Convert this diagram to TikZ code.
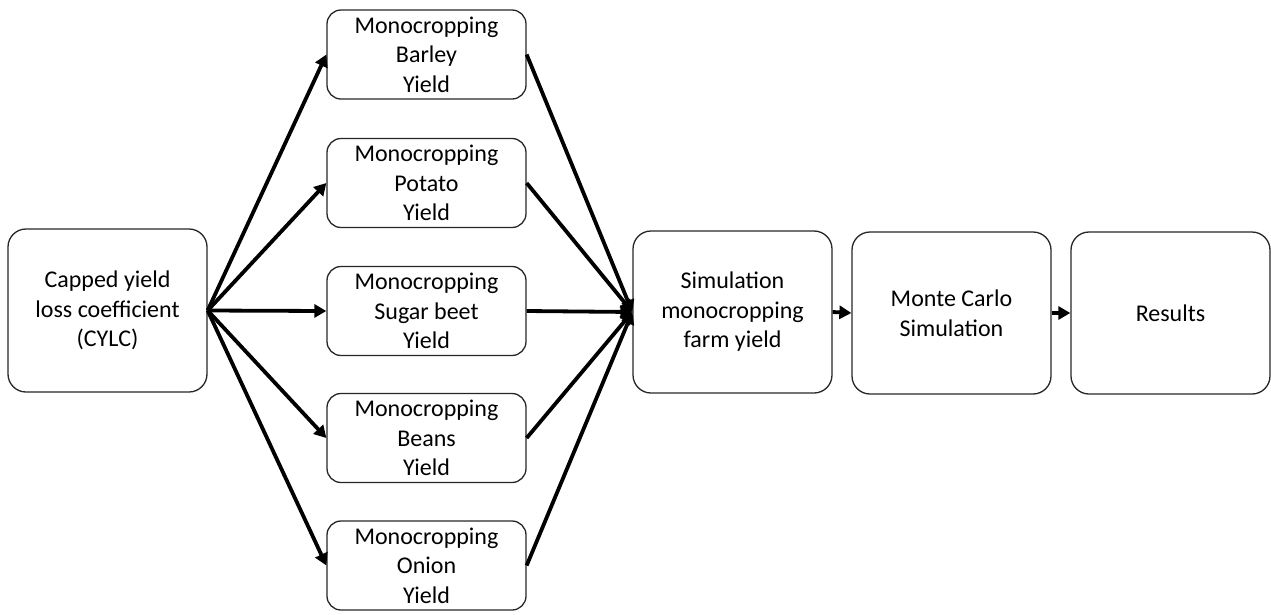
\documentclass[tikz,border=0pt]{standalone}
\usepackage{fontspec}
\setmainfont{Carlito}
\usetikzlibrary{arrows.meta}
\begin{document}
\begin{tikzpicture}[x=1pt,y=-1pt,
  box/.style={draw=black!85,line width=1.3pt,rounded corners=18pt,align=center,
    font=\fontsize{24}{29.5}\selectfont,inner sep=0pt},
  small/.style={box,minimum width=199pt,minimum height=89pt,rounded corners=14pt},
  big/.style={box,minimum width=199pt,minimum height=162pt},
  arr/.style={line width=3.8pt,-{Triangle[length=12pt,width=13pt]}}]
\useasboundingbox (0,0) rectangle (1271,614);
\node[big,minimum height=163pt] (cylc) at (107.5,310.5) {Capped yield\\loss coefficient\\(CYLC)};
\node[small] (barley) at (426.5,54.5) {Monocropping\\Barley\\Yield};
\node[small] (potato) at (426.5,183) {Monocropping\\Potato\\Yield};
\node[small] (sugar) at (426.5,311) {Monocropping\\Sugar beet\\Yield};
\node[small] (beans) at (426.5,438) {Monocropping\\Beans\\Yield};
\node[small] (onion) at (426.5,565.5) {Monocropping\\Onion\\Yield};
\node[big] (sim) at (732.5,312) {Simulation\\monocropping\\farm yield};
\node[big] (mc) at (951.5,313) {Monte Carlo\\Simulation};
\node[big] (res) at (1170.5,313) {Results};
\foreach \n in {barley,potato,sugar,beans,onion}{
  \draw[arr] (cylc.east) -- (\n.west);
  \draw[arr] (\n.east) -- (sim.west);
}
\draw[arr] (sim.east) -- (mc.west);
\draw[arr] (mc.east) -- (res.west);
\end{tikzpicture}
\end{document}
